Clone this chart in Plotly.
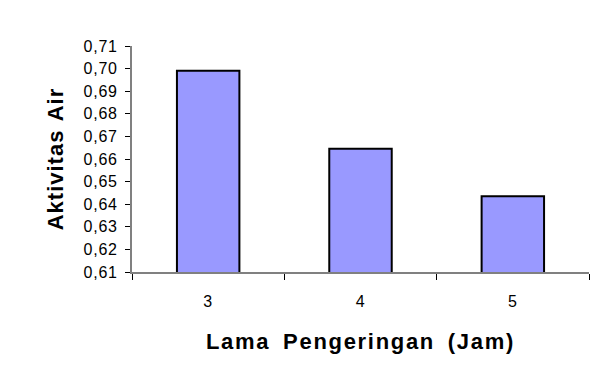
import plotly.graph_objects as go

# Drying time (hours) vs. water activity
lama_jam = ["3", "4", "5"]
aktivitas_air = [0.699, 0.6645, 0.6435]
y_ticks = [0.61, 0.62, 0.63, 0.64, 0.65, 0.66, 0.67, 0.68, 0.69, 0.70, 0.71]


def spaced(text, ls=2, ws=0):
    return f'<span style="letter-spacing:{ls}px;word-spacing:{ws}px">{text}</span>'


y_ticktext = [spaced(f"{v:.2f}".replace(".", ","), 0.8) for v in y_ticks]
x_ticktext = [spaced(c, 0.8) for c in lama_jam]

fig = go.Figure(
    go.Bar(
        x=lama_jam,
        y=aktivitas_air,
        width=0.41,
        marker=dict(color="#9999FF", line=dict(color="#000000", width=2)),
    )
)

fig.update_layout(
    width=596,
    height=381,
    margin=dict(l=132, r=7, t=46, b=109),
    plot_bgcolor="white",
    paper_bgcolor="white",
    showlegend=False,
    font=dict(family="Liberation Sans, Arial, sans-serif", color="#000000"),
    xaxis=dict(
        type="category",
        tickvals=lama_jam,
        ticktext=x_ticktext,
        tickson="boundaries",
        ticks="outside",
        ticklen=6,
        tickcolor="#000000",
        tickwidth=1,
        showline=True,
        linecolor="#808080",
        linewidth=2,
        showgrid=False,
        tickfont=dict(size=16),
        ticklabelstandoff=14,
        title=dict(
            text="<b>" + spaced("Lama Pengeringan (Jam)", 1.7, 5) + "</b>",
            font=dict(size=22),
            standoff=24,
        ),
    ),
    yaxis=dict(
        range=[0.61, 0.71],
        tickvals=y_ticks,
        ticktext=y_ticktext,
        ticks="outside",
        ticklen=5,
        tickcolor="#000000",
        tickwidth=1,
        showline=True,
        linecolor="#808080",
        linewidth=2,
        showgrid=False,
        zeroline=False,
        tickfont=dict(size=16),
        ticklabelstandoff=4,
        title=dict(
            text="<b>" + spaced("Aktivitas Air", 1, 2) + "</b>",
            font=dict(size=22),
            standoff=14,
        ),
    ),
)

fig.write_html("out.html")
